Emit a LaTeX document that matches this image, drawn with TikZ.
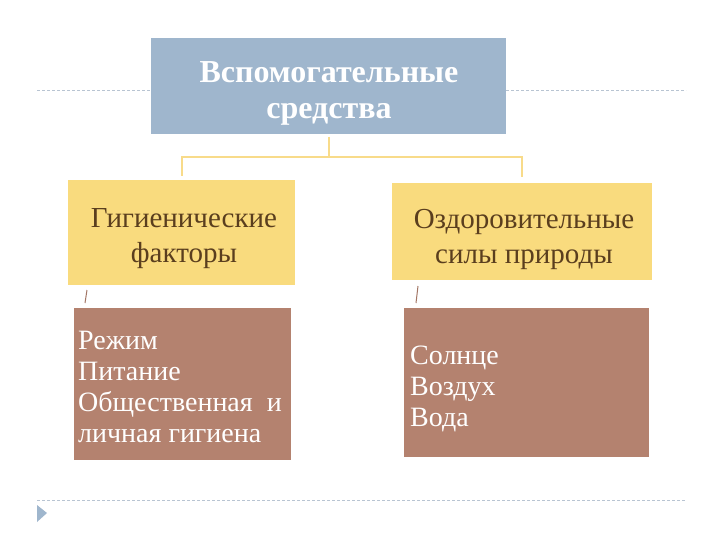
\documentclass[tikz,border=0pt]{standalone}
\usepackage{fontspec}
\setmainfont{Liberation Serif}
\begin{document}
\begin{tikzpicture}[x=1pt,y=-1pt,
  topbox/.style={fill=topblue,draw=none,inner sep=0pt},
  midbox/.style={fill=midyellow,draw=none,inner sep=0pt},
  lowbox/.style={fill=lowbrown,draw=none,inner sep=0pt},
  conn/.style={draw=connyellow,line width=2.2pt},
  guide/.style={draw=guidegray,dash pattern=on 3pt off 2pt,line width=0.8pt},
  tick/.style={draw=lowbrown!90!black,line width=1pt},
  midlabel/.style={text=midtext,font=\fontsize{29}{35}\selectfont,align=center},
  lowlabel/.style={text=white,font=\fontsize{28}{31}\selectfont,align=left,anchor=north west,inner sep=0pt}]
\definecolor{topblue}{HTML}{9FB6CD}
\definecolor{midyellow}{HTML}{F9DB7E}
\definecolor{lowbrown}{HTML}{B4826F}
\definecolor{connyellow}{HTML}{F8DB8A}
\definecolor{guidegray}{HTML}{B8C4D2}
\definecolor{midtext}{HTML}{5A3E1E}
\useasboundingbox[fill=white] (0,0) rectangle (720,540);
% guide lines
\coordinate (gl1) at (37,90);
\coordinate (gl2) at (151,90);
\coordinate (gr1) at (506,90);
\coordinate (gr2) at (686,90);
\coordinate (gb1) at (37,500);
\coordinate (gb2) at (686,500);
\draw[guide] (gl1) -- (gl2);
\draw[guide] (gr1) -- (gr2);
\draw[guide] (gb1) -- (gb2);
\fill[topblue] (37,505) coordinate (tri1) -- (47,513) -- (37,522) -- cycle;
% top box
\node[topbox,minimum width=355pt,minimum height=96pt,anchor=north west] (top) at (151,38) {};
\node[text=white,font=\fontsize{32}{36}\selectfont\bfseries,align=center] (toptext) at (329,93) {Вспомогательные\\средства};
% mid boxes
\node[midbox,minimum width=227pt,minimum height=105pt,anchor=north west] (left) at (68,180) {};
\node[midbox,minimum width=260pt,minimum height=97pt,anchor=north west] (right) at (392,183) {};
\node[midlabel] (lefttext) at (184,239) {Гигиенические\\факторы};
\node[midlabel] (righttext) at (524,239) {Оздоровительные\\силы природы};
% connectors
\coordinate (c0) at (329,137);
\coordinate (c1) at (329,157);
\coordinate (cl) at (182,157);
\coordinate (cr) at (522,157);
\draw[conn] (c0) -- (c1);
\draw[conn] (cl |- left.north) ++(0,-4) -- (cl) -- (cr) -- ++(0,20);
% low boxes
\node[lowbox,minimum width=217pt,minimum height=152pt,anchor=north west] (lowl) at (74,308) {};
\node[lowbox,minimum width=245pt,minimum height=149pt,anchor=north west] (lowr) at (404,308) {};
\node[lowlabel] (lowltext) at (78,331) {Режим\\Питание\\Общественная~~и\\личная гигиена};
\node[lowlabel] (lowrtext) at (410,346) {Солнце\\Воздух\\Вода};
% ticks
\coordinate (t1a) at (87,290);
\coordinate (t1b) at (85,303);
\coordinate (t2a) at (418,286);
\coordinate (t2b) at (416,303);
\draw[tick] (t1a) -- (t1b);
\draw[tick] (t2a) -- (t2b);
\end{tikzpicture}
\end{document}
